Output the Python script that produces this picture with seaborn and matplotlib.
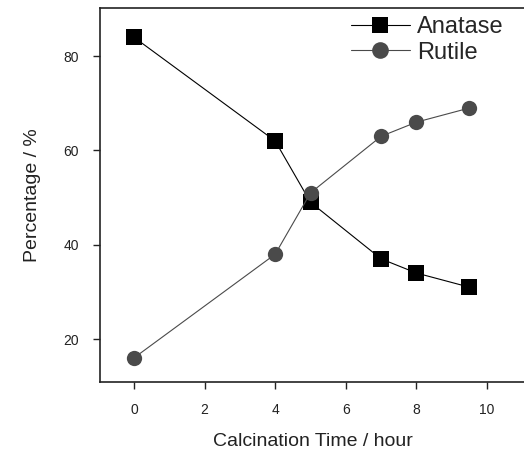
import matplotlib
matplotlib.use("Agg")
import matplotlib.pyplot as plt
import seaborn as sns
import pandas as pd

time_h = [0, 4, 5, 7, 8, 9.5]
anatase = [84, 62, 49, 37, 34, 31]
rutile = [16, 38, 51, 63, 66, 69]
xticks = [0, 2, 4, 6, 8, 10]
yticks = [20, 40, 60, 80]

sns.set_theme(style="ticks")
plt.rcParams['font.family'] = ['Liberation Sans', 'DejaVu Sans']

df = pd.DataFrame({
    "time": time_h * 2,
    "pct": anatase + rutile,
    "phase": ["Anatase"] * len(time_h) + ["Rutile"] * len(time_h),
})

fig = plt.figure(figsize=(5.24, 4.58), dpi=100)
ax = fig.add_axes([100 / 524, 76 / 458, 426 / 524, 374 / 458])

sns.lineplot(data=df, x="time", y="pct", hue="phase", style="phase",
             palette={"Anatase": "#000000", "Rutile": "#4a4a4a"},
             markers={"Anatase": "s", "Rutile": "o"}, dashes=False,
             markersize=11, markeredgewidth=0, linewidth=0.8, ax=ax)

ax.set_xlim(-0.96, 11.1)
ax.set_ylim(10.9, 90.2)
ax.set_xticks(xticks)
ax.set_yticks(yticks)
ax.set_xlabel("Calcination Time / hour", fontsize=14, color="#222222", labelpad=12)
ax.set_ylabel("Percentage / %", fontsize=14, color="#222222", labelpad=16)
ax.tick_params(axis="both", direction="out", length=5, width=1, labelsize=10,
               colors="#222222", top=False, right=False)
ax.tick_params(axis="x", pad=10)
ax.tick_params(axis="y", pad=10)
for s in ["left", "bottom", "top", "right"]:
    ax.spines[s].set_linewidth(1.2)
    ax.spines[s].set_color("#222222")
ax.spines["right"].set_visible(False)

leg = ax.legend(loc="upper right", frameon=False, fontsize=17,
                handlelength=2.5, handletextpad=0.3, borderaxespad=0.1,
                labelspacing=0.15, bbox_to_anchor=(0.975, 1.01))
for h in leg.legend_handles:
    h.set_markersize(12)

fig.savefig("out.png", dpi=100)
